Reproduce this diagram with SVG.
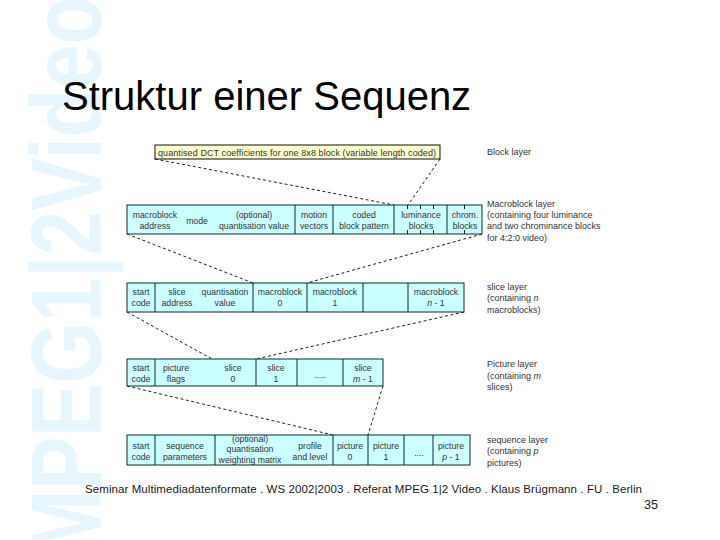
<svg xmlns="http://www.w3.org/2000/svg" width="720" height="540" viewBox="0 0 720 540">
<style>
.cell{fill:#CCFFFF;stroke:#0d2b2b;stroke-width:1}
.blk{fill:#FFFFCC;stroke:#111;stroke-width:1}
.dv{stroke:#0d2b2b;stroke-width:1}
.t{font-family:"Liberation Sans",Arial,sans-serif;font-size:8.7px;fill:#333;text-anchor:middle}
.lab{font-family:"Liberation Sans",Arial,sans-serif;font-size:9px;fill:#333}
.con{stroke:#222;stroke-width:1;stroke-dasharray:3 2.5;fill:none}
.tick{stroke:#0d2b2b;stroke-width:1}
</style>
<rect width="720" height="540" fill="#ffffff"/>
<g id="watermark">
<text transform="translate(101,556) rotate(-90)" x="0" y="0" font-family="Liberation Sans,Arial,sans-serif" font-weight="bold" font-size="100" fill="#E7F6FC" textLength="560" lengthAdjust="spacingAndGlyphs">MPEG1|2Video</text>
</g>
<g id="title">
<text x="62" y="110" font-family="Liberation Sans,Arial,sans-serif" font-size="40" fill="#000">Struktur einer Sequenz</text>
</g>
<g id="connectors">
<line class="con" x1="155" y1="159" x2="394" y2="205"/>
<line class="con" x1="440" y1="159" x2="408" y2="205"/>
<line class="con" x1="127" y1="234" x2="253" y2="283"/>
<line class="con" x1="482" y1="234" x2="307" y2="283"/>
<line class="con" x1="127" y1="312" x2="212" y2="359"/>
<line class="con" x1="464" y1="312" x2="256" y2="359"/>
<line class="con" x1="127" y1="386" x2="333" y2="435"/>
<line class="con" x1="383" y1="386" x2="368" y2="435"/>
</g>
<g id="block-layer">
<rect class="blk" x="155" y="145" width="285" height="14"/>
<text class="lab" x="158" y="155.5" font-size="8.5" textLength="278" lengthAdjust="spacing">quantised DCT coefficients for one 8x8 block (variable length coded)</text>
<text class="lab" x="487" y="155">Block layer</text>
</g>
<g id="macroblock-layer">
<rect class="cell" x="127" y="205" width="355" height="29"/>
<line class="dv" x1="295" y1="205" x2="295" y2="234"/>
<line class="dv" x1="333" y1="205" x2="333" y2="234"/>
<line class="dv" x1="394" y1="205" x2="394" y2="234"/>
<line class="dv" x1="447" y1="205" x2="447" y2="234"/>
<line class="tick" x1="407.5" y1="205" x2="407.5" y2="209"/>
<line class="tick" x1="420.5" y1="205" x2="420.5" y2="209"/>
<line class="tick" x1="433.5" y1="205" x2="433.5" y2="209"/>
<line class="tick" x1="407.5" y1="230" x2="407.5" y2="234"/>
<line class="tick" x1="420.5" y1="230" x2="420.5" y2="234"/>
<line class="tick" x1="433.5" y1="230" x2="433.5" y2="234"/>
<line class="tick" x1="464.5" y1="205" x2="464.5" y2="209"/>
<line class="tick" x1="464.5" y1="230" x2="464.5" y2="234"/>
<text class="t" x="155" y="218">macroblock</text>
<text class="t" x="155" y="229">address</text>
<text class="t" x="197" y="224">mode</text>
<text class="t" x="254" y="218">(optional)</text>
<text class="t" x="254" y="229">quantisation value</text>
<text class="t" x="314" y="218">motion</text>
<text class="t" x="314" y="229">vectors</text>
<text class="t" x="364" y="218">coded</text>
<text class="t" x="364" y="229">block pattern</text>
<text class="t" x="421" y="218">luminance</text>
<text class="t" x="421" y="229">blocks</text>
<text class="t" x="465" y="218">chrom.</text>
<text class="t" x="465" y="229">blocks</text>
<text class="lab" x="487" y="207">Macroblock layer</text>
<text class="lab" x="487" y="218">(containing four luminance</text>
<text class="lab" x="487" y="229">and two chrominance blocks</text>
<text class="lab" x="487" y="241">for 4:2:0 video)</text>
</g>
<g id="slice-layer">
<rect class="cell" x="127" y="283" width="337" height="29"/>
<line class="dv" x1="155" y1="283" x2="155" y2="312"/>
<line class="dv" x1="253" y1="283" x2="253" y2="312"/>
<line class="dv" x1="307" y1="283" x2="307" y2="312"/>
<line class="dv" x1="363" y1="283" x2="363" y2="312"/>
<line class="dv" x1="408" y1="283" x2="408" y2="312"/>
<text class="t" x="141" y="295">start</text>
<text class="t" x="141" y="306">code</text>
<text class="t" x="177" y="295">slice</text>
<text class="t" x="177" y="306">address</text>
<text class="t" x="225" y="295">quantisation</text>
<text class="t" x="225" y="306">value</text>
<text class="t" x="280" y="295">macroblock</text>
<text class="t" x="280" y="306">0</text>
<text class="t" x="335" y="295">macroblock</text>
<text class="t" x="335" y="306">1</text>
<text class="t" x="436" y="295">macroblock</text>
<text class="t" x="436" y="306"><tspan font-style="italic">n</tspan> - 1</text>
<text class="lab" x="487" y="290">slice layer</text>
<text class="lab" x="487" y="301">(containing <tspan font-style="italic">n</tspan></text>
<text class="lab" x="487" y="313">macroblocks)</text>
</g>
<g id="picture-layer">
<rect class="cell" x="127" y="359" width="256" height="27"/>
<line class="dv" x1="155" y1="359" x2="155" y2="386"/>
<line class="dv" x1="256" y1="359" x2="256" y2="386"/>
<line class="dv" x1="297" y1="359" x2="297" y2="386"/>
<line class="dv" x1="343" y1="359" x2="343" y2="386"/>
<text class="t" x="141" y="371">start</text>
<text class="t" x="141" y="382">code</text>
<text class="t" x="176" y="371">picture</text>
<text class="t" x="176" y="382">flags</text>
<text class="t" x="233" y="371">slice</text>
<text class="t" x="233" y="382">0</text>
<text class="t" x="276" y="371">slice</text>
<text class="t" x="276" y="382">1</text>
<text class="t" x="320" y="378">.....</text>
<text class="t" x="363" y="371">slice</text>
<text class="t" x="363" y="382"><tspan font-style="italic">m</tspan> - 1</text>
<text class="lab" x="487" y="367">Picture layer</text>
<text class="lab" x="487" y="379">(containing <tspan font-style="italic">m</tspan></text>
<text class="lab" x="487" y="390">slices)</text>
</g>
<g id="sequence-layer">
<rect class="cell" x="127" y="435" width="343" height="30"/>
<line class="dv" x1="155" y1="435" x2="155" y2="465"/>
<line class="dv" x1="215" y1="435" x2="215" y2="465"/>
<line class="dv" x1="333" y1="435" x2="333" y2="465"/>
<line class="dv" x1="368" y1="435" x2="368" y2="465"/>
<line class="dv" x1="404" y1="435" x2="404" y2="465"/>
<line class="dv" x1="433" y1="435" x2="433" y2="465"/>
<text class="t" x="141" y="449">start</text>
<text class="t" x="141" y="460">code</text>
<text class="t" x="185" y="449">sequence</text>
<text class="t" x="185" y="460">parameters</text>
<text class="t" x="250" y="442">(optional)</text>
<text class="t" x="250" y="452">quantisation</text>
<text class="t" x="250" y="463">weighting matrix</text>
<text class="t" x="310" y="449">profile</text>
<text class="t" x="310" y="460">and level</text>
<text class="t" x="350" y="449">picture</text>
<text class="t" x="350" y="460">0</text>
<text class="t" x="386" y="449">picture</text>
<text class="t" x="386" y="460">1</text>
<text class="t" x="419" y="456">....</text>
<text class="t" x="451" y="449">picture</text>
<text class="t" x="451" y="460"><tspan font-style="italic">p</tspan> - 1</text>
<text class="lab" x="487" y="443">sequence layer</text>
<text class="lab" x="487" y="454">(containing <tspan font-style="italic">p</tspan></text>
<text class="lab" x="487" y="466">pictures)</text>
</g>
<g id="footer">
<text x="85" y="493" font-family="Liberation Sans,Arial,sans-serif" font-size="11.5" fill="#1a1a1a" textLength="557" lengthAdjust="spacing">Seminar Multimediadatenformate . WS 2002|2003 . Referat MPEG 1|2 Video . Klaus Brügmann . FU . Berlin</text>
<text x="644" y="509" font-family="Liberation Sans,Arial,sans-serif" font-size="13" fill="#222" textLength="14" lengthAdjust="spacingAndGlyphs">35</text>
</g>
</svg>
